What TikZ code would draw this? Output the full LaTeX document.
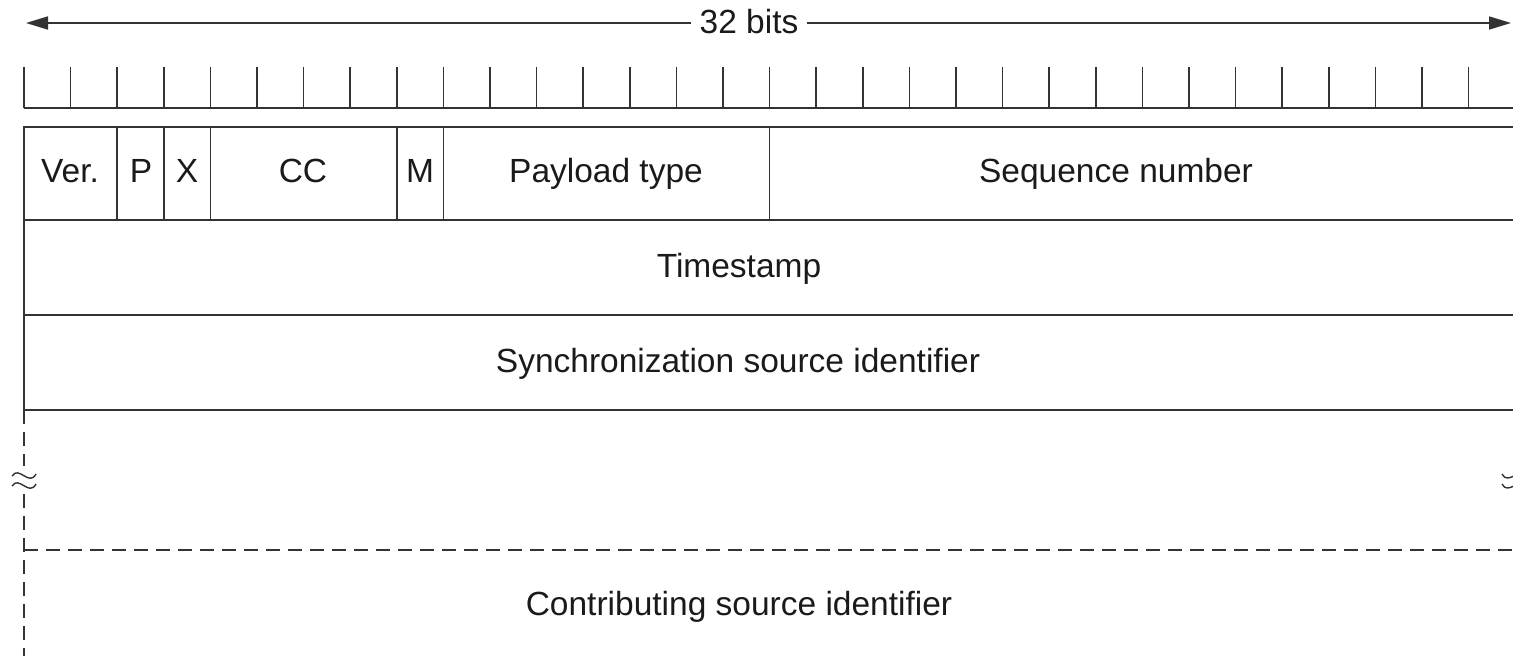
\documentclass[tikz,border=0pt]{standalone}
\usepackage{fontspec}
\setmainfont{Liberation Sans}
\usetikzlibrary{arrows.meta}
\definecolor{ln}{HTML}{333333}
\definecolor{tx}{HTML}{1A1A1A}
\begin{document}
\begin{tikzpicture}[x=1pt,y=-1pt,
  frame/.style={draw=ln,line width=1.7pt},
  dashline/.style={draw=ln,line width=1.7pt,dash pattern=on 14pt off 8pt},
  squig/.style={draw=ln,line width=1.4pt},
  lbl/.style={text=tx,font=\fontsize{33.5}{40}\selectfont,inner sep=0pt,anchor=base},
  tip/.style={-{Triangle[length=22pt,width=13pt]}},
]
\useasboundingbox (0,0) rectangle (1513,656);
\clip (0,0) rectangle (1513,656);
% 32 bits arrow
\node[lbl,fill=white,inner xsep=8pt] (bits) at (749,33) {32 bits};
\coordinate (aL) at (26,23);
\coordinate (aR) at (1511,23);
\draw[frame,tip] (bits.west |- aL) -- (aL);
\draw[frame,tip] (bits.east |- aR) -- (aR);
% tick ruler
\foreach \k in {0,...,32}
  \draw[frame] ({24+46.6*\k},67) -- ({24+46.6*\k},108);
\draw[frame] (24,108) -- (1520,108);
% header rows
\draw[frame] (24,127) rectangle (1515.2,410);
\draw[frame] (24,220) -- (1515.2,220);
\draw[frame] (24,315) -- (1515.2,315);
\foreach \k in {2,3,4,8,9,16}
  \draw[frame] ({24+46.6*\k},127) -- ({24+46.6*\k},220);
% labels
\node[lbl] (ver) at (70,182) {Ver.};
\node[lbl] (p) at (141,182) {P};
\node[lbl] (x) at (187,182) {X};
\node[lbl] (cc) at (303,182) {CC};
\node[lbl] (m) at (420,182) {M};
\node[lbl] (pt) at (606,182) {Payload type};
\node[lbl] (seq) at (1116,182) {Sequence number};
\node[lbl] (ts) at (739,277) {Timestamp};
\node[lbl] (ssrc) at (738,372) {Synchronization source identifier};
\node[lbl] (csrc) at (739,615) {Contributing source identifier};
% dashed CSRC area
\draw[dashline] (24,410) -- (24,466);
\draw[dashline] (24,494) -- (24,656);
\draw[dashline] (1515.2,410) -- (1515.2,466);
\draw[dashline] (1515.2,494) -- (1515.2,656);
\draw[dashline] (24,550) -- (1520,550);
% break marks
\draw[squig] (12,476) .. controls (19,465) and (29,487) .. (36,474);
\draw[squig] (12,486) .. controls (19,475) and (29,497) .. (36,484);
\draw[squig] (1502,474) .. controls (1508,486) and (1520,466) .. (1526,478);
\draw[squig] (1502,484) .. controls (1508,496) and (1520,476) .. (1526,488);
\end{tikzpicture}
\end{document}
